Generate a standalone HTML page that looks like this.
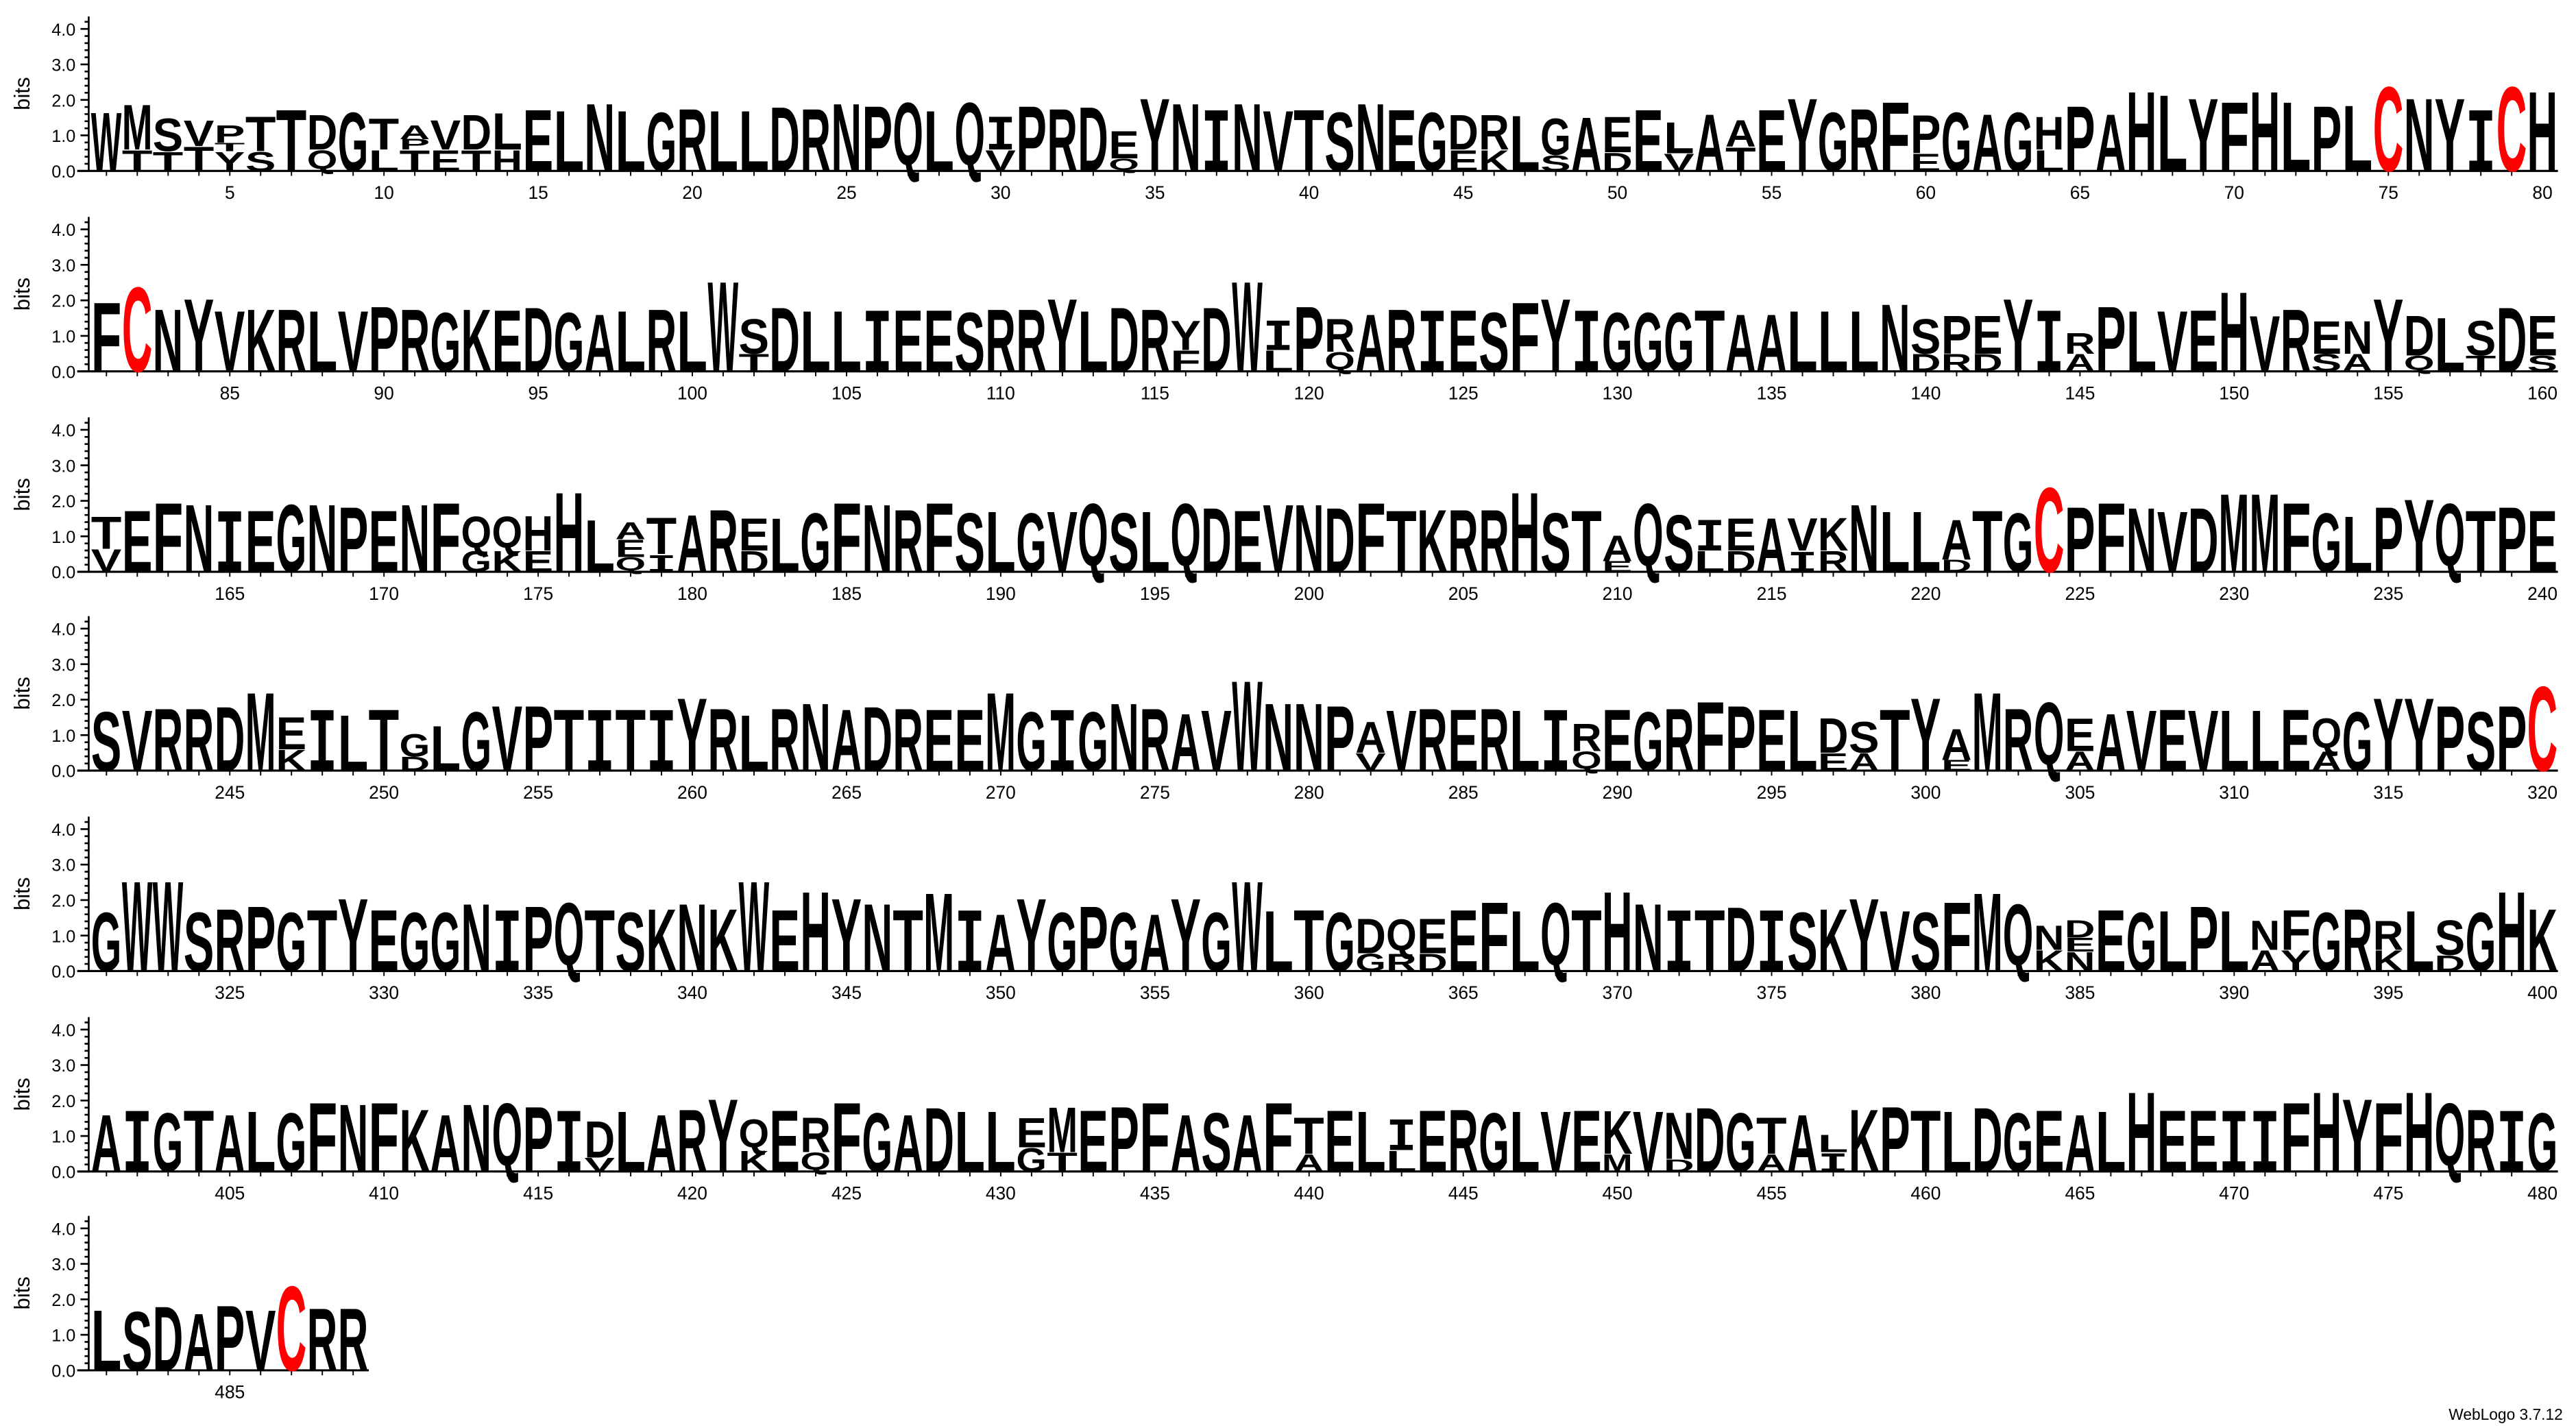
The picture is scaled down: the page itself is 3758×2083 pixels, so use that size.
<!DOCTYPE html>
<html><head><meta charset="utf-8">
<style>
html,body{margin:0;padding:0;background:#fff;}
svg{display:block;}
text{font-family:"Liberation Sans",sans-serif;font-weight:bold;fill:#000;}
.E{font-size:53.6px}.L{font-size:52.8px}.N{font-size:58.8px}.G{font-size:51.3px}.R{font-size:54.3px}
.D{font-size:55.9px}.P{font-size:56.7px}.Q{font-size:54.3px;transform:translateY(-0.07em)}.q{transform:translateY(-0.07em)}.Y{font-size:63.4px}
.I{font-size:55.9px;font-family:"Liberation Mono",monospace}.m{font-family:"Liberation Mono",monospace}
.V{font-size:52.8px}.T{font-size:53.6px}.S{font-size:51.3px}.A{font-size:49.7px}.F{font-size:60.3px}
.H{font-size:69.4px}.C{font-size:73.6px;fill:#ff0000}.M{font-size:68.2px}.W{font-size:78.5px}.K{font-size:54.3px}
.lab text,text.lab{font-weight:normal;}
</style></head><body>
<svg width="3758" height="2083" viewBox="0 0 1568 869.1" preserveAspectRatio="none" xmlns="http://www.w3.org/2000/svg">
<defs>
<path id="pt" d="M64.8,0v3m18.77,-3v3m18.77,-3v3m18.77,-3v3m18.77,-3v3m18.77,-3v3m18.77,-3v3m18.77,-3v3m18.77,-3v3m18.77,-3v3m18.77,-3v3m18.77,-3v3m18.77,-3v3m18.77,-3v3m18.77,-3v3m18.77,-3v3m18.77,-3v3m18.77,-3v3m18.77,-3v3m18.77,-3v3m18.77,-3v3m18.77,-3v3m18.77,-3v3m18.77,-3v3m18.77,-3v3m18.77,-3v3m18.77,-3v3m18.77,-3v3m18.77,-3v3m18.77,-3v3m18.77,-3v3m18.77,-3v3m18.77,-3v3m18.77,-3v3m18.77,-3v3m18.77,-3v3m18.77,-3v3m18.77,-3v3m18.77,-3v3m18.77,-3v3m18.77,-3v3m18.77,-3v3m18.77,-3v3m18.77,-3v3m18.77,-3v3m18.77,-3v3m18.77,-3v3m18.77,-3v3m18.77,-3v3m18.77,-3v3m18.77,-3v3m18.77,-3v3m18.77,-3v3m18.77,-3v3m18.77,-3v3m18.77,-3v3m18.77,-3v3m18.77,-3v3m18.77,-3v3m18.77,-3v3m18.77,-3v3m18.77,-3v3m18.77,-3v3m18.77,-3v3m18.77,-3v3m18.77,-3v3m18.77,-3v3m18.77,-3v3m18.77,-3v3m18.77,-3v3m18.77,-3v3m18.77,-3v3m18.77,-3v3m18.77,-3v3m18.77,-3v3m18.77,-3v3m18.77,-3v3m18.77,-3v3m18.77,-3v3" stroke="#000" stroke-width="0.8" fill="none"/>
<path id="yt" d="M54,0V-94M49,0h5M49,-21.6h5M49,-43.2h5M49,-64.8h5M49,-86.4h5M51.5,-4.32h2.5m-2.5,-4.32h2.5m-2.5,-4.32h2.5m-2.5,-4.32h2.5m-2.5,-8.64h2.5m-2.5,-4.32h2.5m-2.5,-4.32h2.5m-2.5,-4.32h2.5m-2.5,-8.64h2.5m-2.5,-4.32h2.5m-2.5,-4.32h2.5m-2.5,-4.32h2.5m-2.5,-8.64h2.5m-2.5,-4.32h2.5m-2.5,-4.32h2.5m-2.5,-4.32h2.5m-2.5,-8.64h2.5" stroke="#000" stroke-width="1.1" fill="none"/>
</defs>

<!-- ROW 1 -->
<g transform="translate(0,104)">
<use href="#yt"/><path d="M47,0H1557" stroke="#000" stroke-width="1.3"/><use href="#pt"/>
<g class="lab" font-size="10.5"><text x="46" y="4" text-anchor="end">0.0</text><text x="46" y="-17.6" text-anchor="end">1.0</text><text x="46" y="-39.2" text-anchor="end">2.0</text><text x="46" y="-60.8" text-anchor="end">3.0</text><text x="46" y="-82.4" text-anchor="end">4.0</text>
<text transform="translate(18,-47) rotate(-90)" text-anchor="middle" font-size="13">bits</text>
<g text-anchor="middle" font-size="11"><text x="139.9" y="17">5</text><text x="233.7" y="17">10</text><text x="327.6" y="17">15</text><text x="421.4" y="17">20</text><text x="515.3" y="17">25</text><text x="609.1" y="17">30</text><text x="703" y="17">35</text><text x="796.8" y="17">40</text><text x="890.7" y="17">45</text><text x="984.5" y="17">50</text><text x="1078.4" y="17">55</text><text x="1172.2" y="17">60</text><text x="1266.1" y="17">65</text><text x="1359.9" y="17">70</text><text x="1453.8" y="17">75</text><text x="1547.6" y="17">80</text></g></g>
<text x="55.4" style="font-size:51.3px" textLength="18.6" lengthAdjust="spacingAndGlyphs">W</text>
<text x="74.2" font-size="18.1" textLength="18.6" lengthAdjust="spacingAndGlyphs">T</text><text x="74.2" y="-13" font-size="39.2" textLength="18.6" lengthAdjust="spacingAndGlyphs">M</text>
<text x="92.9" font-size="16.6" textLength="18.6" lengthAdjust="spacingAndGlyphs">T</text><text x="92.9" y="-11.9" font-size="28.7" textLength="18.6" lengthAdjust="spacingAndGlyphs">S</text>
<text x="111.7" font-size="21.1" textLength="18.6" lengthAdjust="spacingAndGlyphs">T</text><text x="111.7" y="-15.1" font-size="22.6" textLength="18.6" lengthAdjust="spacingAndGlyphs">V</text>
<text x="130.5" font-size="16.6" textLength="18.6" lengthAdjust="spacingAndGlyphs">Y</text><text x="130.5" y="-11.9" font-size="7.5" textLength="18.6" lengthAdjust="spacingAndGlyphs">T</text><text x="130.5" y="-17.3" font-size="15.1" textLength="18.6" lengthAdjust="spacingAndGlyphs">P</text>
<text x="149.3" font-size="16.6" textLength="18.6" lengthAdjust="spacingAndGlyphs">S</text><text x="149.3" y="-11.9" font-size="30.2" textLength="18.6" lengthAdjust="spacingAndGlyphs">T</text>
<text x="168" class="T" textLength="18.6" lengthAdjust="spacingAndGlyphs">T</text>
<text x="186.8" class="q" font-size="16.3" textLength="18.6" lengthAdjust="spacingAndGlyphs">Q</text><text x="186.8" y="-13" font-size="30.2" textLength="18.6" lengthAdjust="spacingAndGlyphs">D</text>
<text x="205.6" class="G" textLength="18.6" lengthAdjust="spacingAndGlyphs">G</text>
<text x="224.3" font-size="18.1" textLength="18.6" lengthAdjust="spacingAndGlyphs">L</text><text x="224.3" y="-13" font-size="27.2" textLength="18.6" lengthAdjust="spacingAndGlyphs">T</text>
<text x="243.1" font-size="18.1" textLength="18.6" lengthAdjust="spacingAndGlyphs">T</text><text x="243.1" y="-13" font-size="9.1" textLength="18.6" lengthAdjust="spacingAndGlyphs">P</text><text x="243.1" y="-19.4" font-size="12.1" textLength="18.6" lengthAdjust="spacingAndGlyphs">A</text>
<text x="261.9" font-size="18.1" textLength="18.6" lengthAdjust="spacingAndGlyphs">E</text><text x="261.9" y="-13" font-size="25.6" textLength="18.6" lengthAdjust="spacingAndGlyphs">V</text>
<text x="280.6" font-size="18.1" textLength="18.6" lengthAdjust="spacingAndGlyphs">T</text><text x="280.6" y="-13" font-size="30.2" textLength="18.6" lengthAdjust="spacingAndGlyphs">D</text>
<text x="299.4" font-size="18.1" textLength="18.6" lengthAdjust="spacingAndGlyphs">H</text><text x="299.4" y="-13" font-size="31.7" textLength="18.6" lengthAdjust="spacingAndGlyphs">L</text>
<text x="318.2" class="E" textLength="18.6" lengthAdjust="spacingAndGlyphs">E</text>
<text x="337" class="L" textLength="18.6" lengthAdjust="spacingAndGlyphs">L</text>
<text x="355.7" class="N" textLength="18.6" lengthAdjust="spacingAndGlyphs">N</text>
<text x="374.5" class="L" textLength="18.6" lengthAdjust="spacingAndGlyphs">L</text>
<text x="393.3" class="G" textLength="18.6" lengthAdjust="spacingAndGlyphs">G</text>
<text x="412" class="R" textLength="18.6" lengthAdjust="spacingAndGlyphs">R</text>
<text x="430.8" class="L" textLength="18.6" lengthAdjust="spacingAndGlyphs">L</text>
<text x="449.6" class="L" textLength="18.6" lengthAdjust="spacingAndGlyphs">L</text>
<text x="468.3" class="D" textLength="18.6" lengthAdjust="spacingAndGlyphs">D</text>
<text x="487.1" class="R" textLength="18.6" lengthAdjust="spacingAndGlyphs">R</text>
<text x="505.9" class="N" textLength="18.6" lengthAdjust="spacingAndGlyphs">N</text>
<text x="524.7" class="P" textLength="18.6" lengthAdjust="spacingAndGlyphs">P</text>
<text x="543.4" class="Q" textLength="18.6" lengthAdjust="spacingAndGlyphs">Q</text>
<text x="562.2" class="L" textLength="18.6" lengthAdjust="spacingAndGlyphs">L</text>
<text x="581" class="Q" textLength="18.6" lengthAdjust="spacingAndGlyphs">Q</text>
<text x="599.7" font-size="18.1" textLength="18.6" lengthAdjust="spacingAndGlyphs">V</text><text x="599.7" y="-13" class="m" font-size="30.2" textLength="18.6" lengthAdjust="spacingAndGlyphs">I</text>
<text x="618.5" class="P" textLength="18.6" lengthAdjust="spacingAndGlyphs">P</text>
<text x="637.3" class="R" textLength="18.6" lengthAdjust="spacingAndGlyphs">R</text>
<text x="656" class="D" textLength="18.6" lengthAdjust="spacingAndGlyphs">D</text>
<text x="674.8" class="q" font-size="9.5" textLength="18.6" lengthAdjust="spacingAndGlyphs">Q</text><text x="674.8" y="-7.6" font-size="24.1" textLength="18.6" lengthAdjust="spacingAndGlyphs">E</text>
<text x="693.6" class="Y" textLength="18.6" lengthAdjust="spacingAndGlyphs">Y</text>
<text x="712.4" class="N" textLength="18.6" lengthAdjust="spacingAndGlyphs">N</text>
<text x="731.1" class="I" textLength="18.6" lengthAdjust="spacingAndGlyphs">I</text>
<text x="749.9" class="N" textLength="18.6" lengthAdjust="spacingAndGlyphs">N</text>
<text x="768.7" class="V" textLength="18.6" lengthAdjust="spacingAndGlyphs">V</text>
<text x="787.4" class="T" textLength="18.6" lengthAdjust="spacingAndGlyphs">T</text>
<text x="806.2" class="S" textLength="18.6" lengthAdjust="spacingAndGlyphs">S</text>
<text x="825" class="N" textLength="18.6" lengthAdjust="spacingAndGlyphs">N</text>
<text x="843.7" class="E" textLength="18.6" lengthAdjust="spacingAndGlyphs">E</text>
<text x="862.5" class="G" textLength="18.6" lengthAdjust="spacingAndGlyphs">G</text>
<text x="881.3" font-size="18.1" textLength="18.6" lengthAdjust="spacingAndGlyphs">E</text><text x="881.3" y="-13" font-size="30.2" textLength="18.6" lengthAdjust="spacingAndGlyphs">D</text>
<text x="900.1" font-size="18.1" textLength="18.6" lengthAdjust="spacingAndGlyphs">K</text><text x="900.1" y="-13" font-size="30.2" textLength="18.6" lengthAdjust="spacingAndGlyphs">R</text>
<text x="918.8" style="font-size:48.3px" textLength="18.6" lengthAdjust="spacingAndGlyphs">L</text>
<text x="937.6" font-size="13.6" textLength="18.6" lengthAdjust="spacingAndGlyphs">S</text><text x="937.6" y="-9.7" font-size="31.7" textLength="18.6" lengthAdjust="spacingAndGlyphs">G</text>
<text x="956.4" style="font-size:46.8px" textLength="18.6" lengthAdjust="spacingAndGlyphs">A</text>
<text x="975.1" font-size="16" textLength="18.6" lengthAdjust="spacingAndGlyphs">D</text><text x="975.1" y="-11.4" font-size="31.1" textLength="18.6" lengthAdjust="spacingAndGlyphs">E</text>
<text x="993.9" class="E" textLength="18.6" lengthAdjust="spacingAndGlyphs">E</text>
<text x="1012.7" font-size="15.1" textLength="18.6" lengthAdjust="spacingAndGlyphs">V</text><text x="1012.7" y="-10.8" font-size="27.2" textLength="18.6" lengthAdjust="spacingAndGlyphs">L</text>
<text x="1031.4" class="A" textLength="18.6" lengthAdjust="spacingAndGlyphs">A</text>
<text x="1050.2" font-size="20.5" textLength="18.6" lengthAdjust="spacingAndGlyphs">T</text><text x="1050.2" y="-14.7" font-size="23.2" textLength="18.6" lengthAdjust="spacingAndGlyphs">A</text>
<text x="1069" class="E" textLength="18.6" lengthAdjust="spacingAndGlyphs">E</text>
<text x="1087.8" class="Y" textLength="18.6" lengthAdjust="spacingAndGlyphs">Y</text>
<text x="1106.5" class="G" textLength="18.6" lengthAdjust="spacingAndGlyphs">G</text>
<text x="1125.3" class="R" textLength="18.6" lengthAdjust="spacingAndGlyphs">R</text>
<text x="1144.1" class="F" textLength="18.6" lengthAdjust="spacingAndGlyphs">F</text>
<text x="1162.8" font-size="15.1" textLength="18.6" lengthAdjust="spacingAndGlyphs">E</text><text x="1162.8" y="-10.8" font-size="33.2" textLength="18.6" lengthAdjust="spacingAndGlyphs">P</text>
<text x="1181.6" class="G" textLength="18.6" lengthAdjust="spacingAndGlyphs">G</text>
<text x="1200.4" class="A" textLength="18.6" lengthAdjust="spacingAndGlyphs">A</text>
<text x="1219.1" class="G" textLength="18.6" lengthAdjust="spacingAndGlyphs">G</text>
<text x="1237.9" font-size="18.1" textLength="18.6" lengthAdjust="spacingAndGlyphs">L</text><text x="1237.9" y="-13" font-size="28.7" textLength="18.6" lengthAdjust="spacingAndGlyphs">H</text>
<text x="1256.7" class="P" textLength="18.6" lengthAdjust="spacingAndGlyphs">P</text>
<text x="1275.5" class="A" textLength="18.6" lengthAdjust="spacingAndGlyphs">A</text>
<text x="1294.2" class="H" textLength="18.6" lengthAdjust="spacingAndGlyphs">H</text>
<text x="1313" style="font-size:66.4px" textLength="18.6" lengthAdjust="spacingAndGlyphs">L</text>
<text x="1331.8" class="Y" textLength="18.6" lengthAdjust="spacingAndGlyphs">Y</text>
<text x="1350.5" class="F" textLength="18.6" lengthAdjust="spacingAndGlyphs">F</text>
<text x="1369.3" class="H" textLength="18.6" lengthAdjust="spacingAndGlyphs">H</text>
<text x="1388.1" style="font-size:60.3px" textLength="18.6" lengthAdjust="spacingAndGlyphs">L</text>
<text x="1406.8" class="P" textLength="18.6" lengthAdjust="spacingAndGlyphs">P</text>
<text x="1425.6" style="font-size:57.3px" textLength="18.6" lengthAdjust="spacingAndGlyphs">L</text>
<text x="1444.4" class="C" textLength="18.6" lengthAdjust="spacingAndGlyphs">C</text>
<text x="1463.2" style="font-size:63.4px" textLength="18.6" lengthAdjust="spacingAndGlyphs">N</text>
<text x="1481.9" class="Y" textLength="18.6" lengthAdjust="spacingAndGlyphs">Y</text>
<text x="1500.7" class="I" textLength="18.6" lengthAdjust="spacingAndGlyphs">I</text>
<text x="1519.5" class="C" textLength="18.6" lengthAdjust="spacingAndGlyphs">C</text>
<text x="1538.2" class="H" textLength="18.6" lengthAdjust="spacingAndGlyphs">H</text>
</g>

<!-- ROW 2 -->
<g transform="translate(0,226)">
<use href="#yt"/><path d="M47,0H1557" stroke="#000" stroke-width="1.3"/><use href="#pt"/>
<g class="lab" font-size="10.5"><text x="46" y="4" text-anchor="end">0.0</text><text x="46" y="-17.6" text-anchor="end">1.0</text><text x="46" y="-39.2" text-anchor="end">2.0</text><text x="46" y="-60.8" text-anchor="end">3.0</text><text x="46" y="-82.4" text-anchor="end">4.0</text>
<text transform="translate(18,-47) rotate(-90)" text-anchor="middle" font-size="13">bits</text>
<g text-anchor="middle" font-size="11"><text x="139.9" y="17">85</text><text x="233.7" y="17">90</text><text x="327.6" y="17">95</text><text x="421.4" y="17">100</text><text x="515.3" y="17">105</text><text x="609.1" y="17">110</text><text x="703" y="17">115</text><text x="796.8" y="17">120</text><text x="890.7" y="17">125</text><text x="984.5" y="17">130</text><text x="1078.4" y="17">135</text><text x="1172.2" y="17">140</text><text x="1266.1" y="17">145</text><text x="1359.9" y="17">150</text><text x="1453.8" y="17">155</text><text x="1547.6" y="17">160</text></g></g>
<text x="55.4" class="F" textLength="18.6" lengthAdjust="spacingAndGlyphs">F</text>
<text x="74.2" class="C" textLength="18.6" lengthAdjust="spacingAndGlyphs">C</text>
<text x="92.9" style="font-size:54.3px" textLength="18.6" lengthAdjust="spacingAndGlyphs">N</text>
<text x="111.7" class="Y" textLength="18.6" lengthAdjust="spacingAndGlyphs">Y</text>
<text x="130.5" class="V" textLength="18.6" lengthAdjust="spacingAndGlyphs">V</text>
<text x="149.3" class="K" textLength="18.6" lengthAdjust="spacingAndGlyphs">K</text>
<text x="168" class="R" textLength="18.6" lengthAdjust="spacingAndGlyphs">R</text>
<text x="186.8" class="L" textLength="18.6" lengthAdjust="spacingAndGlyphs">L</text>
<text x="205.6" class="V" textLength="18.6" lengthAdjust="spacingAndGlyphs">V</text>
<text x="224.3" class="P" textLength="18.6" lengthAdjust="spacingAndGlyphs">P</text>
<text x="243.1" class="R" textLength="18.6" lengthAdjust="spacingAndGlyphs">R</text>
<text x="261.9" class="G" textLength="18.6" lengthAdjust="spacingAndGlyphs">G</text>
<text x="280.6" class="K" textLength="18.6" lengthAdjust="spacingAndGlyphs">K</text>
<text x="299.4" class="E" textLength="18.6" lengthAdjust="spacingAndGlyphs">E</text>
<text x="318.2" class="D" textLength="18.6" lengthAdjust="spacingAndGlyphs">D</text>
<text x="337" class="G" textLength="18.6" lengthAdjust="spacingAndGlyphs">G</text>
<text x="355.7" class="A" textLength="18.6" lengthAdjust="spacingAndGlyphs">A</text>
<text x="374.5" class="L" textLength="18.6" lengthAdjust="spacingAndGlyphs">L</text>
<text x="393.3" class="R" textLength="18.6" lengthAdjust="spacingAndGlyphs">R</text>
<text x="412" class="L" textLength="18.6" lengthAdjust="spacingAndGlyphs">L</text>
<text x="430.8" class="W" textLength="18.6" lengthAdjust="spacingAndGlyphs">W</text>
<text x="449.6" font-size="15.1" textLength="18.6" lengthAdjust="spacingAndGlyphs">T</text><text x="449.6" y="-10.8" font-size="30.2" textLength="18.6" lengthAdjust="spacingAndGlyphs">S</text>
<text x="468.3" class="D" textLength="18.6" lengthAdjust="spacingAndGlyphs">D</text>
<text x="487.1" class="L" textLength="18.6" lengthAdjust="spacingAndGlyphs">L</text>
<text x="505.9" class="L" textLength="18.6" lengthAdjust="spacingAndGlyphs">L</text>
<text x="524.7" class="I" textLength="18.6" lengthAdjust="spacingAndGlyphs">I</text>
<text x="543.4" class="E" textLength="18.6" lengthAdjust="spacingAndGlyphs">E</text>
<text x="562.2" class="E" textLength="18.6" lengthAdjust="spacingAndGlyphs">E</text>
<text x="581" class="S" textLength="18.6" lengthAdjust="spacingAndGlyphs">S</text>
<text x="599.7" class="R" textLength="18.6" lengthAdjust="spacingAndGlyphs">R</text>
<text x="618.5" class="R" textLength="18.6" lengthAdjust="spacingAndGlyphs">R</text>
<text x="637.3" class="Y" textLength="18.6" lengthAdjust="spacingAndGlyphs">Y</text>
<text x="656" class="L" textLength="18.6" lengthAdjust="spacingAndGlyphs">L</text>
<text x="674.8" class="D" textLength="18.6" lengthAdjust="spacingAndGlyphs">D</text>
<text x="693.6" class="R" textLength="18.6" lengthAdjust="spacingAndGlyphs">R</text>
<text x="712.4" font-size="18.1" textLength="18.6" lengthAdjust="spacingAndGlyphs">F</text><text x="712.4" y="-13" font-size="25.6" textLength="18.6" lengthAdjust="spacingAndGlyphs">Y</text>
<text x="731.1" class="D" textLength="18.6" lengthAdjust="spacingAndGlyphs">D</text>
<text x="749.9" class="W" textLength="18.6" lengthAdjust="spacingAndGlyphs">W</text>
<text x="768.7" font-size="18.1" textLength="18.6" lengthAdjust="spacingAndGlyphs">L</text><text x="768.7" y="-13" class="m" font-size="27.2" textLength="18.6" lengthAdjust="spacingAndGlyphs">I</text>
<text x="787.4" class="P" textLength="18.6" lengthAdjust="spacingAndGlyphs">P</text>
<text x="806.2" class="q" font-size="15" textLength="18.6" lengthAdjust="spacingAndGlyphs">Q</text><text x="806.2" y="-11.9" font-size="28.7" textLength="18.6" lengthAdjust="spacingAndGlyphs">R</text>
<text x="825" class="A" textLength="18.6" lengthAdjust="spacingAndGlyphs">A</text>
<text x="843.7" class="R" textLength="18.6" lengthAdjust="spacingAndGlyphs">R</text>
<text x="862.5" class="I" textLength="18.6" lengthAdjust="spacingAndGlyphs">I</text>
<text x="881.3" class="E" textLength="18.6" lengthAdjust="spacingAndGlyphs">E</text>
<text x="900.1" class="S" textLength="18.6" lengthAdjust="spacingAndGlyphs">S</text>
<text x="918.8" class="F" textLength="18.6" lengthAdjust="spacingAndGlyphs">F</text>
<text x="937.6" class="Y" textLength="18.6" lengthAdjust="spacingAndGlyphs">Y</text>
<text x="956.4" class="I" textLength="18.6" lengthAdjust="spacingAndGlyphs">I</text>
<text x="975.1" class="G" textLength="18.6" lengthAdjust="spacingAndGlyphs">G</text>
<text x="993.9" class="G" textLength="18.6" lengthAdjust="spacingAndGlyphs">G</text>
<text x="1012.7" class="G" textLength="18.6" lengthAdjust="spacingAndGlyphs">G</text>
<text x="1031.4" class="T" textLength="18.6" lengthAdjust="spacingAndGlyphs">T</text>
<text x="1050.2" class="A" textLength="18.6" lengthAdjust="spacingAndGlyphs">A</text>
<text x="1069" class="A" textLength="18.6" lengthAdjust="spacingAndGlyphs">A</text>
<text x="1087.8" class="L" textLength="18.6" lengthAdjust="spacingAndGlyphs">L</text>
<text x="1106.5" class="L" textLength="18.6" lengthAdjust="spacingAndGlyphs">L</text>
<text x="1125.3" class="L" textLength="18.6" lengthAdjust="spacingAndGlyphs">L</text>
<text x="1144.1" class="N" textLength="18.6" lengthAdjust="spacingAndGlyphs">N</text>
<text x="1162.8" font-size="15.1" textLength="18.6" lengthAdjust="spacingAndGlyphs">D</text><text x="1162.8" y="-10.8" font-size="30.2" textLength="18.6" lengthAdjust="spacingAndGlyphs">S</text>
<text x="1181.6" font-size="15.1" textLength="18.6" lengthAdjust="spacingAndGlyphs">R</text><text x="1181.6" y="-10.8" font-size="33.2" textLength="18.6" lengthAdjust="spacingAndGlyphs">P</text>
<text x="1200.4" font-size="15.1" textLength="18.6" lengthAdjust="spacingAndGlyphs">D</text><text x="1200.4" y="-10.8" font-size="33.2" textLength="18.6" lengthAdjust="spacingAndGlyphs">E</text>
<text x="1219.1" class="Y" textLength="18.6" lengthAdjust="spacingAndGlyphs">Y</text>
<text x="1237.9" class="I" textLength="18.6" lengthAdjust="spacingAndGlyphs">I</text>
<text x="1256.7" font-size="15.1" textLength="18.6" lengthAdjust="spacingAndGlyphs">A</text><text x="1256.7" y="-10.8" font-size="18.1" textLength="18.6" lengthAdjust="spacingAndGlyphs">R</text>
<text x="1275.5" class="P" textLength="18.6" lengthAdjust="spacingAndGlyphs">P</text>
<text x="1294.2" class="L" textLength="18.6" lengthAdjust="spacingAndGlyphs">L</text>
<text x="1313" class="V" textLength="18.6" lengthAdjust="spacingAndGlyphs">V</text>
<text x="1331.8" class="E" textLength="18.6" lengthAdjust="spacingAndGlyphs">E</text>
<text x="1350.5" class="H" textLength="18.6" lengthAdjust="spacingAndGlyphs">H</text>
<text x="1369.3" style="font-size:48.3px" textLength="18.6" lengthAdjust="spacingAndGlyphs">V</text>
<text x="1388.1" class="R" textLength="18.6" lengthAdjust="spacingAndGlyphs">R</text>
<text x="1406.8" font-size="15.1" textLength="18.6" lengthAdjust="spacingAndGlyphs">S</text><text x="1406.8" y="-10.8" font-size="28.7" textLength="18.6" lengthAdjust="spacingAndGlyphs">E</text>
<text x="1425.6" font-size="15.1" textLength="18.6" lengthAdjust="spacingAndGlyphs">A</text><text x="1425.6" y="-10.8" font-size="28.7" textLength="18.6" lengthAdjust="spacingAndGlyphs">N</text>
<text x="1444.4" class="Y" textLength="18.6" lengthAdjust="spacingAndGlyphs">Y</text>
<text x="1463.2" class="q" font-size="12.2" textLength="18.6" lengthAdjust="spacingAndGlyphs">Q</text><text x="1463.2" y="-9.7" font-size="34.7" textLength="18.6" lengthAdjust="spacingAndGlyphs">D</text>
<text x="1481.9" style="font-size:46.8px" textLength="18.6" lengthAdjust="spacingAndGlyphs">L</text>
<text x="1500.7" font-size="13.6" textLength="18.6" lengthAdjust="spacingAndGlyphs">T</text><text x="1500.7" y="-9.7" font-size="30.2" textLength="18.6" lengthAdjust="spacingAndGlyphs">S</text>
<text x="1519.5" class="D" textLength="18.6" lengthAdjust="spacingAndGlyphs">D</text>
<text x="1538.2" font-size="13.6" textLength="18.6" lengthAdjust="spacingAndGlyphs">S</text><text x="1538.2" y="-9.7" font-size="34.7" textLength="18.6" lengthAdjust="spacingAndGlyphs">E</text>
</g>

<!-- ROW 3 -->
<g transform="translate(0,348)">
<use href="#yt"/><path d="M47,0H1557" stroke="#000" stroke-width="1.3"/><use href="#pt"/>
<g class="lab" font-size="10.5"><text x="46" y="4" text-anchor="end">0.0</text><text x="46" y="-17.6" text-anchor="end">1.0</text><text x="46" y="-39.2" text-anchor="end">2.0</text><text x="46" y="-60.8" text-anchor="end">3.0</text><text x="46" y="-82.4" text-anchor="end">4.0</text>
<text transform="translate(18,-47) rotate(-90)" text-anchor="middle" font-size="13">bits</text>
<g text-anchor="middle" font-size="11"><text x="139.9" y="17">165</text><text x="233.7" y="17">170</text><text x="327.6" y="17">175</text><text x="421.4" y="17">180</text><text x="515.3" y="17">185</text><text x="609.1" y="17">190</text><text x="703" y="17">195</text><text x="796.8" y="17">200</text><text x="890.7" y="17">205</text><text x="984.5" y="17">210</text><text x="1078.4" y="17">215</text><text x="1172.2" y="17">220</text><text x="1266.1" y="17">225</text><text x="1359.9" y="17">230</text><text x="1453.8" y="17">235</text><text x="1547.6" y="17">240</text></g></g>
<text x="55.4" font-size="19.6" textLength="18.6" lengthAdjust="spacingAndGlyphs">V</text><text x="55.4" y="-14" font-size="28.1" textLength="18.6" lengthAdjust="spacingAndGlyphs">T</text>
<text x="74.2" class="E" textLength="18.6" lengthAdjust="spacingAndGlyphs">E</text>
<text x="92.9" class="F" textLength="18.6" lengthAdjust="spacingAndGlyphs">F</text>
<text x="111.7" class="N" textLength="18.6" lengthAdjust="spacingAndGlyphs">N</text>
<text x="130.5" class="I" textLength="18.6" lengthAdjust="spacingAndGlyphs">I</text>
<text x="149.3" class="E" textLength="18.6" lengthAdjust="spacingAndGlyphs">E</text>
<text x="168" style="font-size:58.8px" textLength="18.6" lengthAdjust="spacingAndGlyphs">G</text>
<text x="186.8" class="N" textLength="18.6" lengthAdjust="spacingAndGlyphs">N</text>
<text x="205.6" class="P" textLength="18.6" lengthAdjust="spacingAndGlyphs">P</text>
<text x="224.3" class="E" textLength="18.6" lengthAdjust="spacingAndGlyphs">E</text>
<text x="243.1" class="N" textLength="18.6" lengthAdjust="spacingAndGlyphs">N</text>
<text x="261.9" class="F" textLength="18.6" lengthAdjust="spacingAndGlyphs">F</text>
<text x="280.6" font-size="18.1" textLength="18.6" lengthAdjust="spacingAndGlyphs">G</text><text x="280.6" y="-13" class="q" font-size="27.2" textLength="18.6" lengthAdjust="spacingAndGlyphs">Q</text>
<text x="299.4" font-size="18.1" textLength="18.6" lengthAdjust="spacingAndGlyphs">K</text><text x="299.4" y="-13" class="q" font-size="27.2" textLength="18.6" lengthAdjust="spacingAndGlyphs">Q</text>
<text x="318.2" font-size="18.1" textLength="18.6" lengthAdjust="spacingAndGlyphs">E</text><text x="318.2" y="-13" font-size="30.2" textLength="18.6" lengthAdjust="spacingAndGlyphs">H</text>
<text x="337" class="H" textLength="18.6" lengthAdjust="spacingAndGlyphs">H</text>
<text x="355.7" style="font-size:45.3px" textLength="18.6" lengthAdjust="spacingAndGlyphs">L</text>
<text x="374.5" class="q" font-size="11.4" textLength="18.6" lengthAdjust="spacingAndGlyphs">Q</text><text x="374.5" y="-9.1" font-size="15.1" textLength="18.6" lengthAdjust="spacingAndGlyphs">E</text><text x="374.5" y="-19.9" font-size="14.5" textLength="18.6" lengthAdjust="spacingAndGlyphs">A</text>
<text x="393.3" class="m" font-size="15.1" textLength="18.6" lengthAdjust="spacingAndGlyphs">I</text><text x="393.3" y="-10.8" font-size="31.7" textLength="18.6" lengthAdjust="spacingAndGlyphs">T</text>
<text x="412" class="A" textLength="18.6" lengthAdjust="spacingAndGlyphs">A</text>
<text x="430.8" class="R" textLength="18.6" lengthAdjust="spacingAndGlyphs">R</text>
<text x="449.6" font-size="18.1" textLength="18.6" lengthAdjust="spacingAndGlyphs">D</text><text x="449.6" y="-13" font-size="28.1" textLength="18.6" lengthAdjust="spacingAndGlyphs">E</text>
<text x="468.3" style="font-size:46.8px" textLength="18.6" lengthAdjust="spacingAndGlyphs">L</text>
<text x="487.1" class="G" textLength="18.6" lengthAdjust="spacingAndGlyphs">G</text>
<text x="505.9" class="F" textLength="18.6" lengthAdjust="spacingAndGlyphs">F</text>
<text x="524.7" class="N" textLength="18.6" lengthAdjust="spacingAndGlyphs">N</text>
<text x="543.4" class="R" textLength="18.6" lengthAdjust="spacingAndGlyphs">R</text>
<text x="562.2" class="F" textLength="18.6" lengthAdjust="spacingAndGlyphs">F</text>
<text x="581" class="S" textLength="18.6" lengthAdjust="spacingAndGlyphs">S</text>
<text x="599.7" class="L" textLength="18.6" lengthAdjust="spacingAndGlyphs">L</text>
<text x="618.5" class="G" textLength="18.6" lengthAdjust="spacingAndGlyphs">G</text>
<text x="637.3" class="V" textLength="18.6" lengthAdjust="spacingAndGlyphs">V</text>
<text x="656" class="Q" textLength="18.6" lengthAdjust="spacingAndGlyphs">Q</text>
<text x="674.8" class="S" textLength="18.6" lengthAdjust="spacingAndGlyphs">S</text>
<text x="693.6" class="L" textLength="18.6" lengthAdjust="spacingAndGlyphs">L</text>
<text x="712.4" class="Q" textLength="18.6" lengthAdjust="spacingAndGlyphs">Q</text>
<text x="731.1" class="D" textLength="18.6" lengthAdjust="spacingAndGlyphs">D</text>
<text x="749.9" class="E" textLength="18.6" lengthAdjust="spacingAndGlyphs">E</text>
<text x="768.7" style="font-size:58.8px" textLength="18.6" lengthAdjust="spacingAndGlyphs">V</text>
<text x="787.4" class="N" textLength="18.6" lengthAdjust="spacingAndGlyphs">N</text>
<text x="806.2" class="D" textLength="18.6" lengthAdjust="spacingAndGlyphs">D</text>
<text x="825" class="F" textLength="18.6" lengthAdjust="spacingAndGlyphs">F</text>
<text x="843.7" class="T" textLength="18.6" lengthAdjust="spacingAndGlyphs">T</text>
<text x="862.5" class="K" textLength="18.6" lengthAdjust="spacingAndGlyphs">K</text>
<text x="881.3" class="R" textLength="18.6" lengthAdjust="spacingAndGlyphs">R</text>
<text x="900.1" class="R" textLength="18.6" lengthAdjust="spacingAndGlyphs">R</text>
<text x="918.8" class="H" textLength="18.6" lengthAdjust="spacingAndGlyphs">H</text>
<text x="937.6" class="S" textLength="18.6" lengthAdjust="spacingAndGlyphs">S</text>
<text x="956.4" class="T" textLength="18.6" lengthAdjust="spacingAndGlyphs">T</text>
<text x="975.1" font-size="9.1" textLength="18.6" lengthAdjust="spacingAndGlyphs">E</text><text x="975.1" y="-6.5" font-size="22.6" textLength="18.6" lengthAdjust="spacingAndGlyphs">A</text>
<text x="993.9" class="Q" textLength="18.6" lengthAdjust="spacingAndGlyphs">Q</text>
<text x="1012.7" class="S" style="font-size:49.7px" textLength="18.6" lengthAdjust="spacingAndGlyphs">S</text>
<text x="1031.4" font-size="18.1" textLength="18.6" lengthAdjust="spacingAndGlyphs">L</text><text x="1031.4" y="-13" class="m" font-size="28.1" textLength="18.6" lengthAdjust="spacingAndGlyphs">I</text>
<text x="1050.2" font-size="18.1" textLength="18.6" lengthAdjust="spacingAndGlyphs">D</text><text x="1050.2" y="-13" font-size="28.1" textLength="18.6" lengthAdjust="spacingAndGlyphs">E</text>
<text x="1069" style="font-size:46.8px" textLength="18.6" lengthAdjust="spacingAndGlyphs">A</text>
<text x="1087.8" class="m" font-size="18.1" textLength="18.6" lengthAdjust="spacingAndGlyphs">I</text><text x="1087.8" y="-13" font-size="28.1" textLength="18.6" lengthAdjust="spacingAndGlyphs">V</text>
<text x="1106.5" font-size="18.1" textLength="18.6" lengthAdjust="spacingAndGlyphs">R</text><text x="1106.5" y="-13" font-size="28.7" textLength="18.6" lengthAdjust="spacingAndGlyphs">K</text>
<text x="1125.3" class="N" textLength="18.6" lengthAdjust="spacingAndGlyphs">N</text>
<text x="1144.1" class="L" textLength="18.6" lengthAdjust="spacingAndGlyphs">L</text>
<text x="1162.8" class="L" textLength="18.6" lengthAdjust="spacingAndGlyphs">L</text>
<text x="1181.6" font-size="10.6" textLength="18.6" lengthAdjust="spacingAndGlyphs">D</text><text x="1181.6" y="-7.6" font-size="34.7" textLength="18.6" lengthAdjust="spacingAndGlyphs">A</text>
<text x="1200.4" class="T" textLength="18.6" lengthAdjust="spacingAndGlyphs">T</text>
<text x="1219.1" class="G" textLength="18.6" lengthAdjust="spacingAndGlyphs">G</text>
<text x="1237.9" class="C" textLength="18.6" lengthAdjust="spacingAndGlyphs">C</text>
<text x="1256.7" class="P" textLength="18.6" lengthAdjust="spacingAndGlyphs">P</text>
<text x="1275.5" class="F" textLength="18.6" lengthAdjust="spacingAndGlyphs">F</text>
<text x="1294.2" class="N" style="font-size:55.9px" textLength="18.6" lengthAdjust="spacingAndGlyphs">N</text>
<text x="1313" class="V" textLength="18.6" lengthAdjust="spacingAndGlyphs">V</text>
<text x="1331.8" class="D" textLength="18.6" lengthAdjust="spacingAndGlyphs">D</text>
<text x="1350.5" class="M" textLength="18.6" lengthAdjust="spacingAndGlyphs">M</text>
<text x="1369.3" class="M" textLength="18.6" lengthAdjust="spacingAndGlyphs">M</text>
<text x="1388.1" class="F" textLength="18.6" lengthAdjust="spacingAndGlyphs">F</text>
<text x="1406.8" class="G" textLength="18.6" lengthAdjust="spacingAndGlyphs">G</text>
<text x="1425.6" style="font-size:48.3px" textLength="18.6" lengthAdjust="spacingAndGlyphs">L</text>
<text x="1444.4" class="P" textLength="18.6" lengthAdjust="spacingAndGlyphs">P</text>
<text x="1463.2" class="Y" textLength="18.6" lengthAdjust="spacingAndGlyphs">Y</text>
<text x="1481.9" class="Q" textLength="18.6" lengthAdjust="spacingAndGlyphs">Q</text>
<text x="1500.7" class="T" textLength="18.6" lengthAdjust="spacingAndGlyphs">T</text>
<text x="1519.5" class="P" textLength="18.6" lengthAdjust="spacingAndGlyphs">P</text>
<text x="1538.2" class="E" textLength="18.6" lengthAdjust="spacingAndGlyphs">E</text>
</g>

<!-- ROW 4 -->
<g transform="translate(0,469)">
<use href="#yt"/><path d="M47,0H1557" stroke="#000" stroke-width="1.3"/><use href="#pt"/>
<g class="lab" font-size="10.5"><text x="46" y="4" text-anchor="end">0.0</text><text x="46" y="-17.6" text-anchor="end">1.0</text><text x="46" y="-39.2" text-anchor="end">2.0</text><text x="46" y="-60.8" text-anchor="end">3.0</text><text x="46" y="-82.4" text-anchor="end">4.0</text>
<text transform="translate(18,-47) rotate(-90)" text-anchor="middle" font-size="13">bits</text>
<g text-anchor="middle" font-size="11"><text x="139.9" y="17">245</text><text x="233.7" y="17">250</text><text x="327.6" y="17">255</text><text x="421.4" y="17">260</text><text x="515.3" y="17">265</text><text x="609.1" y="17">270</text><text x="703" y="17">275</text><text x="796.8" y="17">280</text><text x="890.7" y="17">285</text><text x="984.5" y="17">290</text><text x="1078.4" y="17">295</text><text x="1172.2" y="17">300</text><text x="1266.1" y="17">305</text><text x="1359.9" y="17">310</text><text x="1453.8" y="17">315</text><text x="1547.6" y="17">320</text></g></g>
<text x="55.4" class="S" textLength="18.6" lengthAdjust="spacingAndGlyphs">S</text>
<text x="74.2" class="V" textLength="18.6" lengthAdjust="spacingAndGlyphs">V</text>
<text x="92.9" class="R" textLength="18.6" lengthAdjust="spacingAndGlyphs">R</text>
<text x="111.7" class="R" textLength="18.6" lengthAdjust="spacingAndGlyphs">R</text>
<text x="130.5" class="D" textLength="18.6" lengthAdjust="spacingAndGlyphs">D</text>
<text x="149.3" class="M" textLength="18.6" lengthAdjust="spacingAndGlyphs">M</text>
<text x="168" font-size="18.1" textLength="18.6" lengthAdjust="spacingAndGlyphs">K</text><text x="168" y="-13" font-size="28.1" textLength="18.6" lengthAdjust="spacingAndGlyphs">E</text>
<text x="186.8" class="I" textLength="18.6" lengthAdjust="spacingAndGlyphs">I</text>
<text x="205.6" style="font-size:48.3px" textLength="18.6" lengthAdjust="spacingAndGlyphs">L</text>
<text x="224.3" class="T" textLength="18.6" lengthAdjust="spacingAndGlyphs">T</text>
<text x="243.1" font-size="12.1" textLength="18.6" lengthAdjust="spacingAndGlyphs">D</text><text x="243.1" y="-8.6" font-size="19.6" textLength="18.6" lengthAdjust="spacingAndGlyphs">G</text>
<text x="261.9" style="font-size:39.2px" textLength="18.6" lengthAdjust="spacingAndGlyphs">L</text>
<text x="280.6" class="G" textLength="18.6" lengthAdjust="spacingAndGlyphs">G</text>
<text x="299.4" style="font-size:56.7px" textLength="18.6" lengthAdjust="spacingAndGlyphs">V</text>
<text x="318.2" class="P" textLength="18.6" lengthAdjust="spacingAndGlyphs">P</text>
<text x="337" class="T" textLength="18.6" lengthAdjust="spacingAndGlyphs">T</text>
<text x="355.7" class="I" textLength="18.6" lengthAdjust="spacingAndGlyphs">I</text>
<text x="374.5" class="T" textLength="18.6" lengthAdjust="spacingAndGlyphs">T</text>
<text x="393.3" class="I" textLength="18.6" lengthAdjust="spacingAndGlyphs">I</text>
<text x="412" class="Y" textLength="18.6" lengthAdjust="spacingAndGlyphs">Y</text>
<text x="430.8" class="R" textLength="18.6" lengthAdjust="spacingAndGlyphs">R</text>
<text x="449.6" style="font-size:48.3px" textLength="18.6" lengthAdjust="spacingAndGlyphs">L</text>
<text x="468.3" class="R" textLength="18.6" lengthAdjust="spacingAndGlyphs">R</text>
<text x="487.1" class="N" textLength="18.6" lengthAdjust="spacingAndGlyphs">N</text>
<text x="505.9" class="A" style="font-size:53.6px" textLength="18.6" lengthAdjust="spacingAndGlyphs">A</text>
<text x="524.7" class="D" textLength="18.6" lengthAdjust="spacingAndGlyphs">D</text>
<text x="543.4" class="R" textLength="18.6" lengthAdjust="spacingAndGlyphs">R</text>
<text x="562.2" class="E" textLength="18.6" lengthAdjust="spacingAndGlyphs">E</text>
<text x="581" class="E" textLength="18.6" lengthAdjust="spacingAndGlyphs">E</text>
<text x="599.7" class="M" textLength="18.6" lengthAdjust="spacingAndGlyphs">M</text>
<text x="618.5" class="G" textLength="18.6" lengthAdjust="spacingAndGlyphs">G</text>
<text x="637.3" class="I" textLength="18.6" lengthAdjust="spacingAndGlyphs">I</text>
<text x="656" class="G" textLength="18.6" lengthAdjust="spacingAndGlyphs">G</text>
<text x="674.8" class="N" textLength="18.6" lengthAdjust="spacingAndGlyphs">N</text>
<text x="693.6" class="R" textLength="18.6" lengthAdjust="spacingAndGlyphs">R</text>
<text x="712.4" class="A" textLength="18.6" lengthAdjust="spacingAndGlyphs">A</text>
<text x="731.1" class="V" textLength="18.6" lengthAdjust="spacingAndGlyphs">V</text>
<text x="749.9" class="W" textLength="18.6" lengthAdjust="spacingAndGlyphs">W</text>
<text x="768.7" class="N" textLength="18.6" lengthAdjust="spacingAndGlyphs">N</text>
<text x="787.4" class="N" textLength="18.6" lengthAdjust="spacingAndGlyphs">N</text>
<text x="806.2" class="P" textLength="18.6" lengthAdjust="spacingAndGlyphs">P</text>
<text x="825" font-size="15.1" textLength="18.6" lengthAdjust="spacingAndGlyphs">V</text><text x="825" y="-10.8" font-size="27.2" textLength="18.6" lengthAdjust="spacingAndGlyphs">A</text>
<text x="843.7" class="V" textLength="18.6" lengthAdjust="spacingAndGlyphs">V</text>
<text x="862.5" class="R" textLength="18.6" lengthAdjust="spacingAndGlyphs">R</text>
<text x="881.3" class="E" textLength="18.6" lengthAdjust="spacingAndGlyphs">E</text>
<text x="900.1" class="R" textLength="18.6" lengthAdjust="spacingAndGlyphs">R</text>
<text x="918.8" class="L" textLength="18.6" lengthAdjust="spacingAndGlyphs">L</text>
<text x="937.6" class="I" textLength="18.6" lengthAdjust="spacingAndGlyphs">I</text>
<text x="956.4" class="q" font-size="15" textLength="18.6" lengthAdjust="spacingAndGlyphs">Q</text><text x="956.4" y="-11.9" font-size="24.1" textLength="18.6" lengthAdjust="spacingAndGlyphs">R</text>
<text x="975.1" class="E" textLength="18.6" lengthAdjust="spacingAndGlyphs">E</text>
<text x="993.9" class="G" textLength="18.6" lengthAdjust="spacingAndGlyphs">G</text>
<text x="1012.7" class="R" textLength="18.6" lengthAdjust="spacingAndGlyphs">R</text>
<text x="1031.4" class="F" textLength="18.6" lengthAdjust="spacingAndGlyphs">F</text>
<text x="1050.2" class="P" textLength="18.6" lengthAdjust="spacingAndGlyphs">P</text>
<text x="1069" class="E" textLength="18.6" lengthAdjust="spacingAndGlyphs">E</text>
<text x="1087.8" class="L" textLength="18.6" lengthAdjust="spacingAndGlyphs">L</text>
<text x="1106.5" font-size="15.1" textLength="18.6" lengthAdjust="spacingAndGlyphs">E</text><text x="1106.5" y="-10.8" font-size="30.2" textLength="18.6" lengthAdjust="spacingAndGlyphs">D</text>
<text x="1125.3" font-size="15.1" textLength="18.6" lengthAdjust="spacingAndGlyphs">A</text><text x="1125.3" y="-10.8" font-size="27.2" textLength="18.6" lengthAdjust="spacingAndGlyphs">S</text>
<text x="1144.1" class="T" textLength="18.6" lengthAdjust="spacingAndGlyphs">T</text>
<text x="1162.8" class="Y" textLength="18.6" lengthAdjust="spacingAndGlyphs">Y</text>
<text x="1181.6" font-size="9.1" textLength="18.6" lengthAdjust="spacingAndGlyphs">E</text><text x="1181.6" y="-6.5" font-size="27.2" textLength="18.6" lengthAdjust="spacingAndGlyphs">A</text>
<text x="1200.4" class="M" textLength="18.6" lengthAdjust="spacingAndGlyphs">M</text>
<text x="1219.1" class="R" textLength="18.6" lengthAdjust="spacingAndGlyphs">R</text>
<text x="1237.9" class="Q" textLength="18.6" lengthAdjust="spacingAndGlyphs">Q</text>
<text x="1256.7" font-size="16.6" textLength="18.6" lengthAdjust="spacingAndGlyphs">A</text><text x="1256.7" y="-11.9" font-size="28.7" textLength="18.6" lengthAdjust="spacingAndGlyphs">E</text>
<text x="1275.5" class="A" textLength="18.6" lengthAdjust="spacingAndGlyphs">A</text>
<text x="1294.2" class="V" textLength="18.6" lengthAdjust="spacingAndGlyphs">V</text>
<text x="1313" class="E" textLength="18.6" lengthAdjust="spacingAndGlyphs">E</text>
<text x="1331.8" class="V" textLength="18.6" lengthAdjust="spacingAndGlyphs">V</text>
<text x="1350.5" class="L" textLength="18.6" lengthAdjust="spacingAndGlyphs">L</text>
<text x="1369.3" class="L" textLength="18.6" lengthAdjust="spacingAndGlyphs">L</text>
<text x="1388.1" class="E" textLength="18.6" lengthAdjust="spacingAndGlyphs">E</text>
<text x="1406.8" font-size="16.6" textLength="18.6" lengthAdjust="spacingAndGlyphs">A</text><text x="1406.8" y="-11.9" class="q" font-size="25.8" textLength="18.6" lengthAdjust="spacingAndGlyphs">Q</text>
<text x="1425.6" class="G" textLength="18.6" lengthAdjust="spacingAndGlyphs">G</text>
<text x="1444.4" class="Y" textLength="18.6" lengthAdjust="spacingAndGlyphs">Y</text>
<text x="1463.2" class="Y" textLength="18.6" lengthAdjust="spacingAndGlyphs">Y</text>
<text x="1481.9" class="P" textLength="18.6" lengthAdjust="spacingAndGlyphs">P</text>
<text x="1500.7" class="S" textLength="18.6" lengthAdjust="spacingAndGlyphs">S</text>
<text x="1519.5" class="P" textLength="18.6" lengthAdjust="spacingAndGlyphs">P</text>
<text x="1538.2" class="C" textLength="18.6" lengthAdjust="spacingAndGlyphs">C</text>
</g>

<!-- ROW 5 -->
<g transform="translate(0,591)">
<use href="#yt"/><path d="M47,0H1557" stroke="#000" stroke-width="1.3"/><use href="#pt"/>
<g class="lab" font-size="10.5"><text x="46" y="4" text-anchor="end">0.0</text><text x="46" y="-17.6" text-anchor="end">1.0</text><text x="46" y="-39.2" text-anchor="end">2.0</text><text x="46" y="-60.8" text-anchor="end">3.0</text><text x="46" y="-82.4" text-anchor="end">4.0</text>
<text transform="translate(18,-47) rotate(-90)" text-anchor="middle" font-size="13">bits</text>
<g text-anchor="middle" font-size="11"><text x="139.9" y="17">325</text><text x="233.7" y="17">330</text><text x="327.6" y="17">335</text><text x="421.4" y="17">340</text><text x="515.3" y="17">345</text><text x="609.1" y="17">350</text><text x="703" y="17">355</text><text x="796.8" y="17">360</text><text x="890.7" y="17">365</text><text x="984.5" y="17">370</text><text x="1078.4" y="17">375</text><text x="1172.2" y="17">380</text><text x="1266.1" y="17">385</text><text x="1359.9" y="17">390</text><text x="1453.8" y="17">395</text><text x="1547.6" y="17">400</text></g></g>
<text x="55.4" class="G" textLength="18.6" lengthAdjust="spacingAndGlyphs">G</text>
<text x="74.2" class="W" textLength="18.6" lengthAdjust="spacingAndGlyphs">W</text>
<text x="92.9" class="W" textLength="18.6" lengthAdjust="spacingAndGlyphs">W</text>
<text x="111.7" class="S" textLength="18.6" lengthAdjust="spacingAndGlyphs">S</text>
<text x="130.5" class="R" textLength="18.6" lengthAdjust="spacingAndGlyphs">R</text>
<text x="149.3" class="P" textLength="18.6" lengthAdjust="spacingAndGlyphs">P</text>
<text x="168" class="G" textLength="18.6" lengthAdjust="spacingAndGlyphs">G</text>
<text x="186.8" class="T" textLength="18.6" lengthAdjust="spacingAndGlyphs">T</text>
<text x="205.6" class="Y" textLength="18.6" lengthAdjust="spacingAndGlyphs">Y</text>
<text x="224.3" class="E" textLength="18.6" lengthAdjust="spacingAndGlyphs">E</text>
<text x="243.1" class="G" textLength="18.6" lengthAdjust="spacingAndGlyphs">G</text>
<text x="261.9" class="G" textLength="18.6" lengthAdjust="spacingAndGlyphs">G</text>
<text x="280.6" class="N" textLength="18.6" lengthAdjust="spacingAndGlyphs">N</text>
<text x="299.4" class="I" textLength="18.6" lengthAdjust="spacingAndGlyphs">I</text>
<text x="318.2" class="P" textLength="18.6" lengthAdjust="spacingAndGlyphs">P</text>
<text x="337" class="Q" textLength="18.6" lengthAdjust="spacingAndGlyphs">Q</text>
<text x="355.7" class="T" textLength="18.6" lengthAdjust="spacingAndGlyphs">T</text>
<text x="374.5" class="S" textLength="18.6" lengthAdjust="spacingAndGlyphs">S</text>
<text x="393.3" class="K" textLength="18.6" lengthAdjust="spacingAndGlyphs">K</text>
<text x="412" class="N" textLength="18.6" lengthAdjust="spacingAndGlyphs">N</text>
<text x="430.8" class="K" textLength="18.6" lengthAdjust="spacingAndGlyphs">K</text>
<text x="449.6" class="W" textLength="18.6" lengthAdjust="spacingAndGlyphs">W</text>
<text x="468.3" class="E" textLength="18.6" lengthAdjust="spacingAndGlyphs">E</text>
<text x="487.1" class="H" textLength="18.6" lengthAdjust="spacingAndGlyphs">H</text>
<text x="505.9" class="Y" textLength="18.6" lengthAdjust="spacingAndGlyphs">Y</text>
<text x="524.7" class="N" textLength="18.6" lengthAdjust="spacingAndGlyphs">N</text>
<text x="543.4" class="T" textLength="18.6" lengthAdjust="spacingAndGlyphs">T</text>
<text x="562.2" class="M" textLength="18.6" lengthAdjust="spacingAndGlyphs">M</text>
<text x="581" class="I" textLength="18.6" lengthAdjust="spacingAndGlyphs">I</text>
<text x="599.7" class="A" textLength="18.6" lengthAdjust="spacingAndGlyphs">A</text>
<text x="618.5" class="Y" textLength="18.6" lengthAdjust="spacingAndGlyphs">Y</text>
<text x="637.3" class="G" textLength="18.6" lengthAdjust="spacingAndGlyphs">G</text>
<text x="656" class="P" textLength="18.6" lengthAdjust="spacingAndGlyphs">P</text>
<text x="674.8" class="G" textLength="18.6" lengthAdjust="spacingAndGlyphs">G</text>
<text x="693.6" class="A" textLength="18.6" lengthAdjust="spacingAndGlyphs">A</text>
<text x="712.4" class="Y" textLength="18.6" lengthAdjust="spacingAndGlyphs">Y</text>
<text x="731.1" class="G" textLength="18.6" lengthAdjust="spacingAndGlyphs">G</text>
<text x="749.9" class="W" textLength="18.6" lengthAdjust="spacingAndGlyphs">W</text>
<text x="768.7" class="L" textLength="18.6" lengthAdjust="spacingAndGlyphs">L</text>
<text x="787.4" class="T" textLength="18.6" lengthAdjust="spacingAndGlyphs">T</text>
<text x="806.2" class="G" textLength="18.6" lengthAdjust="spacingAndGlyphs">G</text>
<text x="825" font-size="15.1" textLength="18.6" lengthAdjust="spacingAndGlyphs">G</text><text x="825" y="-10.8" font-size="30.2" textLength="18.6" lengthAdjust="spacingAndGlyphs">D</text>
<text x="843.7" font-size="15.1" textLength="18.6" lengthAdjust="spacingAndGlyphs">R</text><text x="843.7" y="-10.8" class="q" font-size="27.2" textLength="18.6" lengthAdjust="spacingAndGlyphs">Q</text>
<text x="862.5" font-size="15.1" textLength="18.6" lengthAdjust="spacingAndGlyphs">D</text><text x="862.5" y="-10.8" font-size="30.2" textLength="18.6" lengthAdjust="spacingAndGlyphs">E</text>
<text x="881.3" class="E" textLength="18.6" lengthAdjust="spacingAndGlyphs">E</text>
<text x="900.1" class="F" textLength="18.6" lengthAdjust="spacingAndGlyphs">F</text>
<text x="918.8" class="L" textLength="18.6" lengthAdjust="spacingAndGlyphs">L</text>
<text x="937.6" class="Q" textLength="18.6" lengthAdjust="spacingAndGlyphs">Q</text>
<text x="956.4" class="T" textLength="18.6" lengthAdjust="spacingAndGlyphs">T</text>
<text x="975.1" class="H" textLength="18.6" lengthAdjust="spacingAndGlyphs">H</text>
<text x="993.9" class="N" textLength="18.6" lengthAdjust="spacingAndGlyphs">N</text>
<text x="1012.7" class="I" textLength="18.6" lengthAdjust="spacingAndGlyphs">I</text>
<text x="1031.4" class="T" textLength="18.6" lengthAdjust="spacingAndGlyphs">T</text>
<text x="1050.2" class="D" textLength="18.6" lengthAdjust="spacingAndGlyphs">D</text>
<text x="1069" class="I" textLength="18.6" lengthAdjust="spacingAndGlyphs">I</text>
<text x="1087.8" class="S" textLength="18.6" lengthAdjust="spacingAndGlyphs">S</text>
<text x="1106.5" class="K" textLength="18.6" lengthAdjust="spacingAndGlyphs">K</text>
<text x="1125.3" class="Y" textLength="18.6" lengthAdjust="spacingAndGlyphs">Y</text>
<text x="1144.1" class="V" textLength="18.6" lengthAdjust="spacingAndGlyphs">V</text>
<text x="1162.8" class="S" textLength="18.6" lengthAdjust="spacingAndGlyphs">S</text>
<text x="1181.6" class="F" textLength="18.6" lengthAdjust="spacingAndGlyphs">F</text>
<text x="1200.4" class="M" textLength="18.6" lengthAdjust="spacingAndGlyphs">M</text>
<text x="1219.1" class="q" style="font-size:52.9px" textLength="18.6" lengthAdjust="spacingAndGlyphs">Q</text>
<text x="1237.9" font-size="18.1" textLength="18.6" lengthAdjust="spacingAndGlyphs">K</text><text x="1237.9" y="-13" font-size="21.1" textLength="18.6" lengthAdjust="spacingAndGlyphs">N</text>
<text x="1256.7" font-size="16.6" textLength="18.6" lengthAdjust="spacingAndGlyphs">N</text><text x="1256.7" y="-11.9" font-size="12.1" textLength="18.6" lengthAdjust="spacingAndGlyphs">E</text><text x="1256.7" y="-20.5" font-size="15.1" textLength="18.6" lengthAdjust="spacingAndGlyphs">D</text>
<text x="1275.5" class="E" textLength="18.6" lengthAdjust="spacingAndGlyphs">E</text>
<text x="1294.2" class="G" textLength="18.6" lengthAdjust="spacingAndGlyphs">G</text>
<text x="1313" class="L" textLength="18.6" lengthAdjust="spacingAndGlyphs">L</text>
<text x="1331.8" class="P" textLength="18.6" lengthAdjust="spacingAndGlyphs">P</text>
<text x="1350.5" class="L" textLength="18.6" lengthAdjust="spacingAndGlyphs">L</text>
<text x="1369.3" font-size="18.1" textLength="18.6" lengthAdjust="spacingAndGlyphs">A</text><text x="1369.3" y="-13" font-size="25.6" textLength="18.6" lengthAdjust="spacingAndGlyphs">N</text>
<text x="1388.1" font-size="18.1" textLength="18.6" lengthAdjust="spacingAndGlyphs">Y</text><text x="1388.1" y="-13" font-size="34.7" textLength="18.6" lengthAdjust="spacingAndGlyphs">F</text>
<text x="1406.8" class="G" textLength="18.6" lengthAdjust="spacingAndGlyphs">G</text>
<text x="1425.6" class="R" textLength="18.6" lengthAdjust="spacingAndGlyphs">R</text>
<text x="1444.4" font-size="18.1" textLength="18.6" lengthAdjust="spacingAndGlyphs">K</text><text x="1444.4" y="-13" font-size="25.6" textLength="18.6" lengthAdjust="spacingAndGlyphs">R</text>
<text x="1463.2" class="L" textLength="18.6" lengthAdjust="spacingAndGlyphs">L</text>
<text x="1481.9" font-size="13.6" textLength="18.6" lengthAdjust="spacingAndGlyphs">D</text><text x="1481.9" y="-9.7" font-size="30.2" textLength="18.6" lengthAdjust="spacingAndGlyphs">S</text>
<text x="1500.7" class="G" textLength="18.6" lengthAdjust="spacingAndGlyphs">G</text>
<text x="1519.5" class="H" textLength="18.6" lengthAdjust="spacingAndGlyphs">H</text>
<text x="1538.2" class="K" textLength="18.6" lengthAdjust="spacingAndGlyphs">K</text>
</g>

<!-- ROW 6 -->
<g transform="translate(0,713)">
<use href="#yt"/><path d="M47,0H1557" stroke="#000" stroke-width="1.3"/><use href="#pt"/>
<g class="lab" font-size="10.5"><text x="46" y="4" text-anchor="end">0.0</text><text x="46" y="-17.6" text-anchor="end">1.0</text><text x="46" y="-39.2" text-anchor="end">2.0</text><text x="46" y="-60.8" text-anchor="end">3.0</text><text x="46" y="-82.4" text-anchor="end">4.0</text>
<text transform="translate(18,-47) rotate(-90)" text-anchor="middle" font-size="13">bits</text>
<g text-anchor="middle" font-size="11"><text x="139.9" y="17">405</text><text x="233.7" y="17">410</text><text x="327.6" y="17">415</text><text x="421.4" y="17">420</text><text x="515.3" y="17">425</text><text x="609.1" y="17">430</text><text x="703" y="17">435</text><text x="796.8" y="17">440</text><text x="890.7" y="17">445</text><text x="984.5" y="17">450</text><text x="1078.4" y="17">455</text><text x="1172.2" y="17">460</text><text x="1266.1" y="17">465</text><text x="1359.9" y="17">470</text><text x="1453.8" y="17">475</text><text x="1547.6" y="17">480</text></g></g>
<text x="55.4" class="A" textLength="18.6" lengthAdjust="spacingAndGlyphs">A</text>
<text x="74.2" class="I" textLength="18.6" lengthAdjust="spacingAndGlyphs">I</text>
<text x="92.9" class="G" textLength="18.6" lengthAdjust="spacingAndGlyphs">G</text>
<text x="111.7" class="T" textLength="18.6" lengthAdjust="spacingAndGlyphs">T</text>
<text x="130.5" class="A" textLength="18.6" lengthAdjust="spacingAndGlyphs">A</text>
<text x="149.3" class="L" textLength="18.6" lengthAdjust="spacingAndGlyphs">L</text>
<text x="168" class="G" textLength="18.6" lengthAdjust="spacingAndGlyphs">G</text>
<text x="186.8" class="F" textLength="18.6" lengthAdjust="spacingAndGlyphs">F</text>
<text x="205.6" class="N" textLength="18.6" lengthAdjust="spacingAndGlyphs">N</text>
<text x="224.3" class="F" textLength="18.6" lengthAdjust="spacingAndGlyphs">F</text>
<text x="243.1" class="K" textLength="18.6" lengthAdjust="spacingAndGlyphs">K</text>
<text x="261.9" class="A" textLength="18.6" lengthAdjust="spacingAndGlyphs">A</text>
<text x="280.6" class="N" textLength="18.6" lengthAdjust="spacingAndGlyphs">N</text>
<text x="299.4" class="Q" textLength="18.6" lengthAdjust="spacingAndGlyphs">Q</text>
<text x="318.2" class="P" textLength="18.6" lengthAdjust="spacingAndGlyphs">P</text>
<text x="337" class="I" textLength="18.6" lengthAdjust="spacingAndGlyphs">I</text>
<text x="355.7" font-size="12.1" textLength="18.6" lengthAdjust="spacingAndGlyphs">V</text><text x="355.7" y="-8.6" font-size="31.7" textLength="18.6" lengthAdjust="spacingAndGlyphs">D</text>
<text x="374.5" class="L" textLength="18.6" lengthAdjust="spacingAndGlyphs">L</text>
<text x="393.3" class="A" textLength="18.6" lengthAdjust="spacingAndGlyphs">A</text>
<text x="412" class="R" textLength="18.6" lengthAdjust="spacingAndGlyphs">R</text>
<text x="430.8" class="Y" textLength="18.6" lengthAdjust="spacingAndGlyphs">Y</text>
<text x="449.6" font-size="18.1" textLength="18.6" lengthAdjust="spacingAndGlyphs">K</text><text x="449.6" y="-13" class="q" font-size="24.5" textLength="18.6" lengthAdjust="spacingAndGlyphs">Q</text>
<text x="468.3" class="E" textLength="18.6" lengthAdjust="spacingAndGlyphs">E</text>
<text x="487.1" class="q" font-size="15" textLength="18.6" lengthAdjust="spacingAndGlyphs">Q</text><text x="487.1" y="-11.9" font-size="30.2" textLength="18.6" lengthAdjust="spacingAndGlyphs">R</text>
<text x="505.9" class="F" textLength="18.6" lengthAdjust="spacingAndGlyphs">F</text>
<text x="524.7" class="G" textLength="18.6" lengthAdjust="spacingAndGlyphs">G</text>
<text x="543.4" class="A" textLength="18.6" lengthAdjust="spacingAndGlyphs">A</text>
<text x="562.2" class="D" textLength="18.6" lengthAdjust="spacingAndGlyphs">D</text>
<text x="581" class="L" textLength="18.6" lengthAdjust="spacingAndGlyphs">L</text>
<text x="599.7" class="L" textLength="18.6" lengthAdjust="spacingAndGlyphs">L</text>
<text x="618.5" font-size="20.5" textLength="18.6" lengthAdjust="spacingAndGlyphs">G</text><text x="618.5" y="-14.7" font-size="25.6" textLength="18.6" lengthAdjust="spacingAndGlyphs">E</text>
<text x="637.3" font-size="16.6" textLength="18.6" lengthAdjust="spacingAndGlyphs">T</text><text x="637.3" y="-11.9" font-size="39.2" textLength="18.6" lengthAdjust="spacingAndGlyphs">M</text>
<text x="656" class="E" textLength="18.6" lengthAdjust="spacingAndGlyphs">E</text>
<text x="674.8" class="P" textLength="18.6" lengthAdjust="spacingAndGlyphs">P</text>
<text x="693.6" class="F" textLength="18.6" lengthAdjust="spacingAndGlyphs">F</text>
<text x="712.4" class="A" textLength="18.6" lengthAdjust="spacingAndGlyphs">A</text>
<text x="731.1" class="S" textLength="18.6" lengthAdjust="spacingAndGlyphs">S</text>
<text x="749.9" class="A" textLength="18.6" lengthAdjust="spacingAndGlyphs">A</text>
<text x="768.7" class="F" textLength="18.6" lengthAdjust="spacingAndGlyphs">F</text>
<text x="787.4" font-size="15.1" textLength="18.6" lengthAdjust="spacingAndGlyphs">A</text><text x="787.4" y="-10.8" font-size="31.7" textLength="18.6" lengthAdjust="spacingAndGlyphs">T</text>
<text x="806.2" class="E" textLength="18.6" lengthAdjust="spacingAndGlyphs">E</text>
<text x="825" class="L" textLength="18.6" lengthAdjust="spacingAndGlyphs">L</text>
<text x="843.7" font-size="18.1" textLength="18.6" lengthAdjust="spacingAndGlyphs">L</text><text x="843.7" y="-13" class="m" font-size="28.1" textLength="18.6" lengthAdjust="spacingAndGlyphs">I</text>
<text x="862.5" class="E" textLength="18.6" lengthAdjust="spacingAndGlyphs">E</text>
<text x="881.3" class="R" textLength="18.6" lengthAdjust="spacingAndGlyphs">R</text>
<text x="900.1" class="G" textLength="18.6" lengthAdjust="spacingAndGlyphs">G</text>
<text x="918.8" class="L" textLength="18.6" lengthAdjust="spacingAndGlyphs">L</text>
<text x="937.6" class="V" textLength="18.6" lengthAdjust="spacingAndGlyphs">V</text>
<text x="956.4" class="E" textLength="18.6" lengthAdjust="spacingAndGlyphs">E</text>
<text x="975.1" font-size="15.1" textLength="18.6" lengthAdjust="spacingAndGlyphs">M</text><text x="975.1" y="-10.8" font-size="37.7" textLength="18.6" lengthAdjust="spacingAndGlyphs">K</text>
<text x="993.9" class="V" textLength="18.6" lengthAdjust="spacingAndGlyphs">V</text>
<text x="1012.7" font-size="10.6" textLength="18.6" lengthAdjust="spacingAndGlyphs">D</text><text x="1012.7" y="-7.6" font-size="40.7" textLength="18.6" lengthAdjust="spacingAndGlyphs">N</text>
<text x="1031.4" class="D" textLength="18.6" lengthAdjust="spacingAndGlyphs">D</text>
<text x="1050.2" class="G" textLength="18.6" lengthAdjust="spacingAndGlyphs">G</text>
<text x="1069" font-size="15.1" textLength="18.6" lengthAdjust="spacingAndGlyphs">A</text><text x="1069" y="-10.8" font-size="31.7" textLength="18.6" lengthAdjust="spacingAndGlyphs">T</text>
<text x="1087.8" class="A" textLength="18.6" lengthAdjust="spacingAndGlyphs">A</text>
<text x="1106.5" class="m" font-size="16.6" textLength="18.6" lengthAdjust="spacingAndGlyphs">I</text><text x="1106.5" y="-11.9" font-size="15.1" textLength="18.6" lengthAdjust="spacingAndGlyphs">L</text>
<text x="1125.3" class="K" textLength="18.6" lengthAdjust="spacingAndGlyphs">K</text>
<text x="1144.1" class="P" textLength="18.6" lengthAdjust="spacingAndGlyphs">P</text>
<text x="1162.8" class="T" textLength="18.6" lengthAdjust="spacingAndGlyphs">T</text>
<text x="1181.6" class="L" textLength="18.6" lengthAdjust="spacingAndGlyphs">L</text>
<text x="1200.4" class="D" textLength="18.6" lengthAdjust="spacingAndGlyphs">D</text>
<text x="1219.1" class="G" textLength="18.6" lengthAdjust="spacingAndGlyphs">G</text>
<text x="1237.9" class="E" textLength="18.6" lengthAdjust="spacingAndGlyphs">E</text>
<text x="1256.7" class="A" textLength="18.6" lengthAdjust="spacingAndGlyphs">A</text>
<text x="1275.5" class="L" textLength="18.6" lengthAdjust="spacingAndGlyphs">L</text>
<text x="1294.2" class="H" textLength="18.6" lengthAdjust="spacingAndGlyphs">H</text>
<text x="1313" class="E" textLength="18.6" lengthAdjust="spacingAndGlyphs">E</text>
<text x="1331.8" class="E" textLength="18.6" lengthAdjust="spacingAndGlyphs">E</text>
<text x="1350.5" class="I" textLength="18.6" lengthAdjust="spacingAndGlyphs">I</text>
<text x="1369.3" class="I" textLength="18.6" lengthAdjust="spacingAndGlyphs">I</text>
<text x="1388.1" class="F" textLength="18.6" lengthAdjust="spacingAndGlyphs">F</text>
<text x="1406.8" class="H" textLength="18.6" lengthAdjust="spacingAndGlyphs">H</text>
<text x="1425.6" class="Y" textLength="18.6" lengthAdjust="spacingAndGlyphs">Y</text>
<text x="1444.4" class="F" textLength="18.6" lengthAdjust="spacingAndGlyphs">F</text>
<text x="1463.2" class="H" textLength="18.6" lengthAdjust="spacingAndGlyphs">H</text>
<text x="1481.9" class="Q" textLength="18.6" lengthAdjust="spacingAndGlyphs">Q</text>
<text x="1500.7" class="R" textLength="18.6" lengthAdjust="spacingAndGlyphs">R</text>
<text x="1519.5" class="I" textLength="18.6" lengthAdjust="spacingAndGlyphs">I</text>
<text x="1538.2" class="G" textLength="18.6" lengthAdjust="spacingAndGlyphs">G</text>
</g>

<!-- ROW 7 -->
<g transform="translate(0,834)">
<use href="#yt"/><path d="M47,0H224.5" stroke="#000" stroke-width="1.3"/>
<path d="M64.8,0v3m18.77,-3v3m18.77,-3v3m18.77,-3v3m18.77,-3v3m18.77,-3v3m18.77,-3v3m18.77,-3v3m18.77,-3v3" stroke="#000" stroke-width="0.8" fill="none"/>
<g class="lab" font-size="10.5"><text x="46" y="4" text-anchor="end">0.0</text><text x="46" y="-17.6" text-anchor="end">1.0</text><text x="46" y="-39.2" text-anchor="end">2.0</text><text x="46" y="-60.8" text-anchor="end">3.0</text><text x="46" y="-82.4" text-anchor="end">4.0</text>
<text transform="translate(18,-47) rotate(-90)" text-anchor="middle" font-size="13">bits</text>
<text x="139.9" y="17" text-anchor="middle" font-size="11">485</text></g>
<text x="55.4" class="L" textLength="18.6" lengthAdjust="spacingAndGlyphs">L</text>
<text x="74.2" class="S" textLength="18.6" lengthAdjust="spacingAndGlyphs">S</text>
<text x="92.9" class="D" textLength="18.6" lengthAdjust="spacingAndGlyphs">D</text>
<text x="111.7" class="A" textLength="18.6" lengthAdjust="spacingAndGlyphs">A</text>
<text x="130.5" class="P" textLength="18.6" lengthAdjust="spacingAndGlyphs">P</text>
<text x="149.3" class="V" textLength="18.6" lengthAdjust="spacingAndGlyphs">V</text>
<text x="168" class="C" textLength="18.6" lengthAdjust="spacingAndGlyphs">C</text>
<text x="186.8" class="R" textLength="18.6" lengthAdjust="spacingAndGlyphs">R</text>
<text x="205.6" class="R" textLength="18.6" lengthAdjust="spacingAndGlyphs">R</text>
</g>

<text class="lab" x="1560" y="864" text-anchor="end" font-size="9.5">WebLogo 3.7.12</text>
</svg>
</body></html>
